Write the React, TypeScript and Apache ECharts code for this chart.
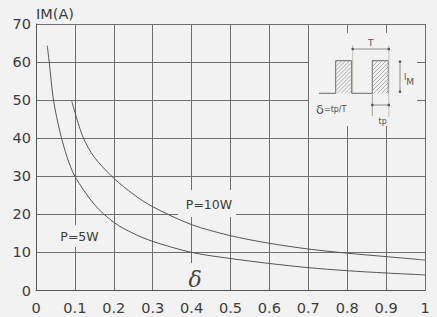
import React, { useEffect, useRef } from "react";
import * as echarts from "echarts";

// P = 5W curve: duty cycle δ vs IM (A)
const dutyP5 = [0.029, 0.034, 0.045, 0.062, 0.08, 0.1, 0.15, 0.2, 0.25, 0.3, 0.4, 0.5, 0.6, 0.7, 0.8, 0.9, 1.0];
const currentP5 = [64.3, 60, 50, 41.5, 35, 30, 22.6, 17.9, 15, 12.9, 10, 8.4, 7.1, 6.0, 5.2, 4.6, 4.1];

// P = 10W curve
const dutyP10 = [0.092, 0.12, 0.15, 0.2, 0.25, 0.3, 0.4, 0.5, 0.6, 0.7, 0.8, 0.9, 1.0];
const currentP10 = [49.7, 40.5, 35, 29.5, 25.3, 22, 17.3, 14.4, 12.4, 10.9, 9.8, 8.9, 8.0];

const seriesNames = ["P=5W", "P=10W"];
const yAxisName = "IM(A)";

const BG = "#f2f2f2";
const TXT = "#3c3c3c";
const FONT = "DejaVu Sans";

function hatchLines(x0: number, y0: number, x1: number, y1: number, step: number) {
  const out: any[] = [];
  for (let s = x0 + y0 + step / 2; s < x1 + y1; s += step) {
    const xa = Math.max(x0, s - y1);
    const xb = Math.min(x1, s - y0);
    if (xb <= xa) continue;
    out.push({
      type: "line",
      z: 5,
      shape: { x1: xa, y1: s - xa, x2: xb, y2: s - xb },
      style: { stroke: "#9a9a9a", lineWidth: 0.8 },
      silent: true,
    });
  }
  return out;
}

function dot(x: number, y: number) {
  return { type: "circle", z: 6, shape: { cx: x, cy: y, r: 1.3 }, style: { fill: "#555" }, silent: true };
}

function ln(x1: number, y1: number, x2: number, y2: number, stroke = "#777", w = 1) {
  return { type: "line", z: 5, shape: { x1, y1, x2, y2 }, style: { stroke, lineWidth: w }, silent: true };
}

function mask(x: number, y: number, width: number, height: number) {
  return { type: "rect", z: 1, shape: { x, y, width, height }, style: { fill: BG }, silent: true };
}

export default function App() {
  const ref = useRef<HTMLDivElement>(null);
  useEffect(() => {
    if (!ref.current) return;
    const chart = echarts.init(ref.current, null, { renderer: "svg" });
    const p5 = dutyP5.map((d, i) => [d, currentP5[i]]);
    const p10 = dutyP10.map((d, i) => [d, currentP10[i]]);
    const gridColor = "#6e6e6e";
    chart.setOption({
      animation: false,
      backgroundColor: BG,
      grid: { left: 36, right: 12, top: 24, bottom: 26.5, containLabel: false },
      xAxis: {
        type: "value",
        min: 0,
        max: 1,
        interval: 0.1,
        axisLine: { show: true, lineStyle: { color: "#555", width: 1 } },
        axisTick: { show: false },
        splitLine: { show: true, lineStyle: { color: gridColor, width: 1 } },
        axisLabel: {
          color: TXT,
          fontFamily: FONT,
          fontSize: 14.5,
          margin: 10,
          formatter: (v: number) => (v === 0 || v === 1 ? String(v) : v.toFixed(1)),
        },
      },
      yAxis: {
        type: "value",
        min: 0,
        max: 70,
        interval: 10,
        axisLine: { show: true, lineStyle: { color: "#555", width: 1 } },
        axisTick: { show: false },
        splitLine: { show: true, lineStyle: { color: gridColor, width: 1 } },
        axisLabel: { color: TXT, fontFamily: FONT, fontSize: 14.5, margin: 5 },
      },
      series: [
        {
          name: seriesNames[0],
          type: "line",
          data: p5,
          smooth: 0.3,
          showSymbol: false,
          lineStyle: { color: "#555", width: 1 },
          z: 2,
        },
        {
          name: seriesNames[1],
          type: "line",
          data: p10,
          smooth: 0.3,
          showSymbol: false,
          lineStyle: { color: "#555", width: 1 },
          z: 2,
        },
      ],
      graphic: [
        // masks hiding grid lines behind labels / inset
        mask(309, 33, 108, 93),
        mask(178, 190, 58, 27),
        mask(58, 225, 43, 22),
        mask(184, 263, 22, 26.5),
        // axis name
        {
          type: "text",
          z: 6,
          left: 36,
          top: 6,
          style: { text: yAxisName, fill: TXT, font: `14.5px "${FONT}"` },
        },
        // curve labels
        {
          type: "text",
          z: 6,
          x: 209,
          y: 204,
          style: { text: seriesNames[1], fill: TXT, font: `12.5px "${FONT}"`, align: "center", verticalAlign: "middle" },
        },
        {
          type: "text",
          z: 6,
          x: 79.5,
          y: 236,
          style: { text: seriesNames[0], fill: TXT, font: `12.5px "${FONT}"`, align: "center", verticalAlign: "middle" },
        },
        {
          type: "text",
          z: 6,
          x: 195,
          y: 279,
          style: { text: "δ", fill: "#444", font: `italic 22px "DejaVu Serif"`, align: "center", verticalAlign: "middle" },
        },
        // inset: pulse waveform
        {
          type: "polyline",
          z: 5,
          shape: {
            points: [
              [319, 93.3], [335.7, 93.3], [335.7, 60.7], [351.7, 60.7], [351.7, 93.3],
              [372.3, 93.3], [372.3, 60.7], [388.3, 60.7], [388.3, 93.3],
            ],
          },
          style: { stroke: "#6a6a6a", lineWidth: 1, fill: null },
          silent: true,
        },
        ...hatchLines(335.7, 60.7, 351.7, 93.3, 4),
        ...hatchLines(372.3, 60.7, 388.3, 93.3, 4),
        // T dimension
        ln(352.7, 45, 352.7, 93, "#b5b5a5", 0.8),
        ln(388.8, 45, 388.8, 117, "#b5b5a5", 0.8),
        ln(352.7, 49, 388.8, 49, "#777", 0.8),
        dot(352.7, 49),
        dot(388.8, 49),
        { type: "text", z: 6, x: 370.7, y: 42.5, style: { text: "T", fill: "#555", font: `9px "${FONT}"`, align: "center", verticalAlign: "middle" } },
        // tp dimension
        ln(372.3, 93, 372.3, 116, "#8a8a8a", 0.8),
        ln(372.3, 105, 388.8, 105, "#777", 0.8),
        dot(372.3, 105),
        dot(388.8, 105),
        { type: "text", z: 6, x: 382.7, y: 121, style: { text: "tp", fill: "#555", font: `8px "${FONT}"`, align: "center", verticalAlign: "middle" } },
        // IM dimension
        ln(400, 61.7, 400, 91.7, "#777", 0.8),
        dot(400, 61.7),
        dot(400, 91.7),
        {
          type: "text",
          z: 6,
          x: 404,
          y: 73,
          style: {
            text: "{a|I}{b|M}",
            fill: "#555",
            rich: {
              a: { fontSize: 8, fontFamily: FONT, fill: "#555", verticalAlign: "top", padding: [0, 0, 4, 0] },
              b: { fontSize: 9, fontFamily: FONT, fill: "#555", padding: [4, 0, 0, 0] },
            },
          },
        },
        // δ = tp / T
        {
          type: "text",
          z: 6,
          x: 316,
          y: 109,
          style: {
            text: "{d|δ}{e|=tp/T}",
            verticalAlign: "middle",
            rich: {
              d: { fontSize: 13, fontFamily: "DejaVu Sans", fill: "#555" },
              e: { fontSize: 8, fontFamily: FONT, fill: "#555" },
            },
          },
        },
      ],
    });
    return () => chart.dispose();
  }, []);
  return (
    <div
      ref={ref}
      style={{ position: "fixed", left: 0, top: 0, width: 437, height: 317, background: BG }}
    />
  );
}
